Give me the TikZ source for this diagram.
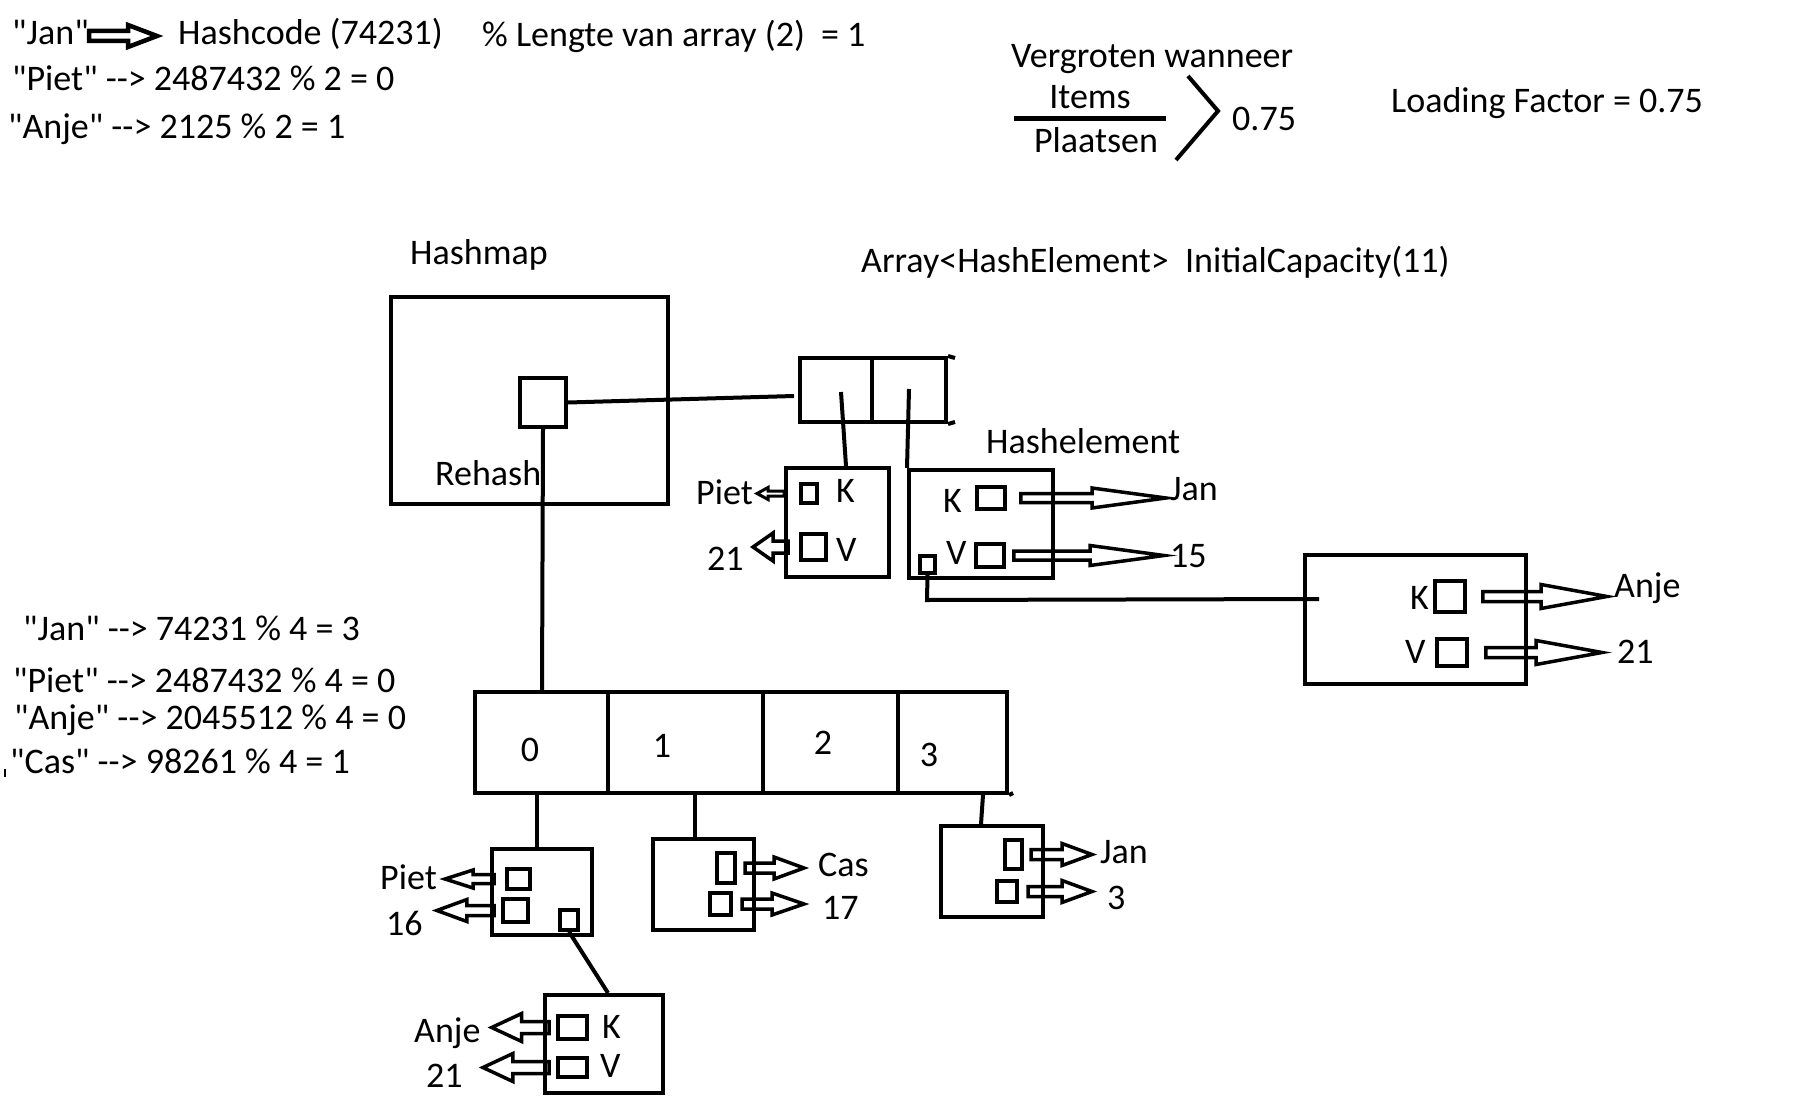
\documentclass[tikz,border=0pt]{standalone}
\usepackage{fontspec}
\setmainfont{Carlito}[Ligatures=TeXOff]
\usetikzlibrary{calc}
\tikzset{
  every node/.style={font=\fontsize{36}{40}\selectfont},
  lbl/.style={inner sep=0pt,anchor=base west},
  thick line/.style={line width=4pt},
  harrow/.style n args={3}{line width=3.5pt,line join=miter,to path={let \p1=(\tikztostart),\p2=(\tikztotarget) in
    (\x1,{\y1+#1}) -- ({\x2-(#3)},{\y1+#1}) -- ({\x2-(#3)},{\y1+#2}) -- (\x2,\y1) -- ({\x2-(#3)},{\y1-#2}) -- ({\x2-(#3)},{\y1-#1}) -- (\x1,{\y1-#1}) -- cycle}},
}
\newcommand\mybox[5]{\node[draw,line width=4pt,inner sep=0pt,minimum width={#4-#2},minimum height={#5-#3}] (#1) at ({(#2+#4)/2},{(#3+#5)/2}) {};}
\newcommand\mysq[5]{\node[draw,line width=3.5pt,inner sep=0pt,minimum width={#4-#2},minimum height={#5-#3}] (#1) at ({(#2+#4)/2},{(#3+#5)/2}) {};}
\begin{document}
\begin{tikzpicture}[x=1pt,y=-1pt]
\useasboundingbox[fill=white] (0,0) rectangle (1811,1113);

% ---------- top-left text ----------
\node[lbl] (tjan) at (12,45) {"Jan"};
\node[lbl] (thash) at (178,45) {Hashcode (74231)};
\node[lbl] (tlen) at (482,47) {\% Lengte van array (2)\ \ = 1};
\node[lbl] (tpiet) at (12,91) {"Piet" -->{} 2487432 \% 2 = 0};
\node[lbl] (tanje) at (8,139) {"Anje" -->{} 2125 \% 2 = 1};
\coordinate (ja1) at (89,36);
\coordinate (ja2) at (157,36);
\draw[harrow={5pt}{11pt}{29pt},line width=4.5pt] (ja1) to (ja2);

% ---------- top-right ----------
\node[lbl] (tverg) at (1011,68) {Vergroten wanneer};
\node[inner sep=0pt,anchor=base] (titems) at (1090,109) {Items};
\node[inner sep=0pt,anchor=base] (tplaats) at (1096,153) {Plaatsen};
\coordinate (fl1) at (1014,119);
\coordinate (fl2) at (1166,119);
\draw[line width=5pt] (fl1) -- (fl2);
\coordinate (ch1) at (1188,76);
\coordinate (ch2) at (1218,111);
\coordinate (ch3) at (1176,160);
\draw[thick line] (ch1) -- (ch2) -- (ch3);
\node[lbl] (t075) at (1232,131) {0.75};
\node[lbl] (tload) at (1391,113) {Loading Factor = 0.75};

% ---------- hashmap ----------
\node[lbl] (thm) at (410,264) {Hashmap};
\node[lbl] (tarr) at (861,272) {Array<HashElement>\ \ InitialCapacity(11)};
\mybox{hm}{391}{297}{668}{504}
\mybox{hmsq}{520}{378}{566}{427}
\node[lbl] (trehash) at (435,485) {Rehash};

% upper array
\mybox{uc0}{800}{358}{872}{422}
\mybox{uc1}{872}{358}{946}{422}
\coordinate (uce) at (955,358);
\coordinate (ucf) at (955,422);
\draw[thick line] (uc1.north east) -- (uce);
\draw[thick line] (uc1.south east) -- (ucf);
\coordinate (ucin) at (794,396);
\draw[thick line] (hmsq.east) -- (ucin);

% Piet element (upper)
\mybox{pe}{786}{468}{889}{577}
\mysq{pek}{801}{484}{817}{503}
\mysq{pev}{801}{534}{826}{560}
\node[lbl] (tpek) at (836,502) {K};
\node[lbl] (tpev) at (836,561) {V};
\node[lbl] (tpiet2) at (696,504) {Piet};
\node[lbl] (t21a) at (707,570) {21};
\coordinate (c0s) at (841,392);
\draw[thick line] (c0s) -- (pe.north -| 846,0);
\draw[harrow={2.5pt}{6pt}{-11pt},line width=3pt] (pe.west |- pek) to ([xshift=4pt]tpiet2.east |- pek);
\draw[harrow={6pt}{14pt}{-20pt}] ([xshift=4pt]pe.west |- pev) to ([xshift=-31pt]pe.west |- pev);

% Jan element (upper, "Hashelement")
\node[lbl] (thel) at (986,453) {Hashelement};
\mybox{je}{909}{470}{1053}{578}
\mysq{jek}{977}{487}{1005}{509}
\mysq{jev}{976}{544}{1004}{567}
\mysq{jen}{920}{556}{935}{573}
\node[lbl] (tjek) at (943,512) {K};
\node[lbl] (tjev) at (946,564) {V};
\node[lbl] (tjan2) at (1170,500) {Jan};
\node[lbl] (t15) at (1170,567) {15};
\coordinate (c1s) at (909,389);
\draw[thick line] (c1s) -- (je.north west);
\draw[harrow={4.5pt}{10pt}{74pt}] ([xshift=14pt]jek.east) to ([xshift=-4pt]tjan2.west |- jek);
\draw[harrow={4.5pt}{10pt}{74pt}] ([xshift=8pt]jev.east) to ([xshift=-6pt]t15.west |- jev);

% Anje element (right)
\mybox{ae}{1305}{555}{1526}{684}
\mysq{aek}{1435}{581}{1465}{612}
\mysq{aev}{1437}{639}{1467}{666}
\node[lbl] (taek) at (1410,609) {K};
\node[lbl] (taev) at (1405,663) {V};
\node[lbl] (tanje2) at (1614,597) {Anje};
\node[lbl] (t21b) at (1617,663) {21};
\coordinate (jl1) at (927,600);
\coordinate (jl2) at (1319,599);
\draw[thick line] (jen.south) -- (jl1) -- (jl2);
\draw[harrow={5pt}{12pt}{66pt}] ([xshift=16pt]aek.east) to ([xshift=-7pt]tanje2.west |- aek);
\draw[harrow={5pt}{12pt}{66pt}] ([xshift=17pt]aev.east) to ([xshift=-15pt]t21b.west |- aev);

% ---------- lower left text ----------
\node[lbl] (tl1) at (23,640) {"Jan" -->{} 74231 \% 4 = 3};
\node[lbl] (tl2) at (13,692) {"Piet" -->{} 2487432 \% 4 = 0};
\node[lbl] (tl3) at (14,729) {"Anje" -->{} 2045512 \% 4 = 0};
\node[lbl] (tl4) at (10,773) {"Cas" -->{} 98261 \% 4 = 1};
\coordinate (tk1) at (5,769);
\coordinate (tk2) at (5,777);
\draw[line width=1.5pt] (tk1) -- (tk2);

% ---------- lower array ----------
\mybox{lc0}{475}{692}{608}{793}
\mybox{lc1}{608}{692}{763}{793}
\mybox{lc2}{763}{692}{898}{793}
\mybox{lc3}{898}{692}{1007}{793}
\coordinate (lct) at (1013,793);
\draw[thick line] (lc3.south east) -- (lct);
\node[inner sep=0pt] (n0) at (530,750) {0};
\node[inner sep=0pt] (n1) at (662,746) {1};
\node[inner sep=0pt] (n2) at (823,743) {2};
\node[inner sep=0pt] (n3) at (929,755) {3};
\draw[thick line] (hmsq.south) -- (lc0.north -| 542,0);

% Piet (lower)
\mybox{lp}{492}{849}{592}{935}
\mysq{lpk}{507}{869}{530}{889}
\mysq{lpv}{503}{899}{528}{922}
\mysq{lpn}{560}{910}{578}{930}
\node[lbl] (tlp) at (380,889) {Piet};
\node[lbl] (t16) at (386,935) {16};
\draw[thick line] (lc0.south -| 537,0) -- (lp.north -| 537,0);
\draw[harrow={4.5pt}{9pt}{-28pt}] ([xshift=4pt]lp.west |- lpk) to ([xshift=8pt]tlp.east |- lpk);
\draw[harrow={5pt}{11pt}{-30pt}] ([xshift=4pt]lp.west |- lpv) to ([xshift=14pt]t16.east |- lpv);

% Anje (bottom)
\mybox{la}{545}{995}{663}{1093}
\mysq{lak}{558}{1016}{587}{1039}
\mysq{lav}{558}{1058}{587}{1077}
\node[lbl] (tlak) at (602,1038) {K};
\node[lbl] (tlav) at (600,1077) {V};
\node[lbl] (tla) at (414,1042) {Anje};
\node[lbl] (t21c) at (426,1087) {21};
\draw[thick line] (lpn.south) -- (la.north -| 608,0);
\draw[harrow={6pt}{14pt}{-30pt}] ([xshift=6pt]la.west |- lak) to ([xshift=11pt]tla.east |- lak);
\draw[harrow={6pt}{14pt}{-30pt}] ([xshift=6pt]la.west |- lav) to ([xshift=20pt]t21c.east |- lav);

% Cas
\mybox{lcas}{653}{839}{754}{930}
\mysq{lcask}{717}{853}{735}{883}
\mysq{lcasv}{710}{893}{731}{915}
\node[lbl] (tcas) at (818,876) {Cas};
\node[lbl] (t17) at (822,919) {17};
\draw[thick line] (lc1.south -| 695,0) -- (lcas.north -| 695,0);
\draw[harrow={5pt}{11pt}{30pt}] ([xshift=-11pt]lcas.east |- lcask) to ([xshift=-14pt]tcas.west |- lcask);
\draw[harrow={5pt}{11pt}{32pt}] ([xshift=-14pt]lcas.east |- lcasv) to ([xshift=-18pt]t17.west |- lcasv);

% Jan (lower)
\mybox{lj}{941}{826}{1043}{917}
\mysq{ljk}{1005}{840}{1022}{869}
\mysq{ljv}{997}{881}{1017}{902}
\node[lbl] (tlj) at (1100,863) {Jan};
\node[lbl] (t3) at (1107,909) {3};
\draw[thick line] (lc3.south -| 983,0) -- (lj.north -| 981,0);
\draw[harrow={5pt}{11pt}{30pt}] ([xshift=-14pt]lj.east |- ljk) to ([xshift=-8pt]tlj.west |- ljk);
\draw[harrow={5pt}{11pt}{30pt}] ([xshift=-17pt]lj.east |- ljv) to ([xshift=-15pt]t3.west |- ljv);
\end{tikzpicture}
\end{document}
